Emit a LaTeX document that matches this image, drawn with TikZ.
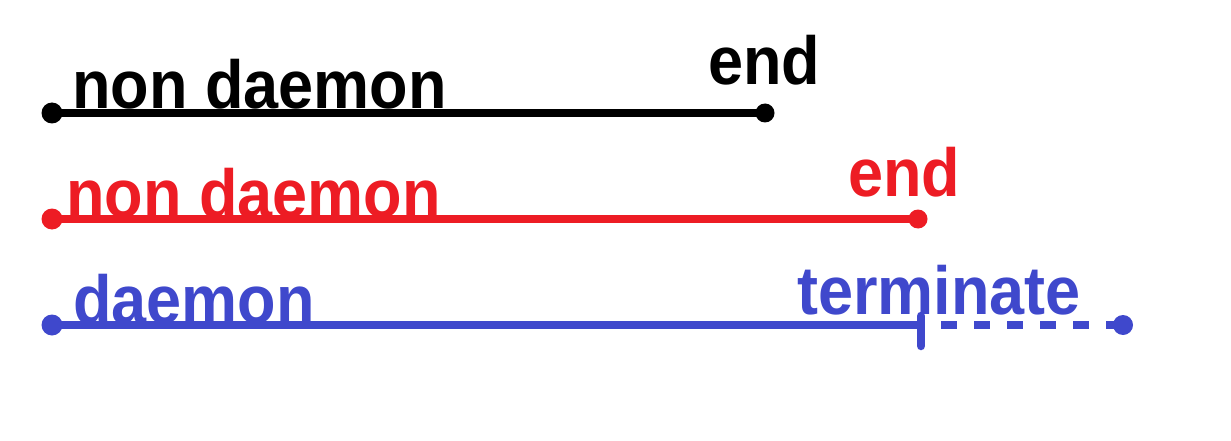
\documentclass[tikz,border=0pt]{standalone}
\usepackage{fontspec}
\usepackage{graphicx}
\setmainfont{Liberation Sans}
\definecolor{pred}{HTML}{ED1C24}
\definecolor{pblue}{HTML}{3F48CC}
\newcommand{\tallbold}[1]{\scalebox{1}[1.08]{#1}}
\begin{document}
\begin{tikzpicture}[x=1pt,y=-1pt,
  dot/.style={circle,fill=#1,inner sep=0pt,minimum size=21pt},
  lbl/.style={anchor=base west,inner sep=0pt,text=#1,font=\fontsize{63}{63}\selectfont\bfseries},
  wire/.style={line width=8pt,draw=#1}]
\useasboundingbox (0,0) rectangle (1231,441);
% black
\node[dot=black] (b0) at (52,113) {};
\node[dot=black,minimum size=19pt] (b1) at (765,113) {};
\draw[wire=black] (b0.center) -- (b1.center);
\node[lbl=black] (bt) at (72,109) {\tallbold{non daemon}};
\node[lbl=black] (be) at (708,85) {\tallbold{end}};
% red
\node[dot=pred] (r0) at (52,219) {};
\node[dot=pred,minimum size=19pt] (r1) at (918,219) {};
\draw[wire=pred] (r0.center) -- (r1.center);
\node[lbl=pred] (rt) at (66,217) {\tallbold{non daemon}};
\node[lbl=pred] (re) at (848,196) {\tallbold{end}};
% blue
\node[dot=pblue] (u0) at (52,325) {};
\coordinate (ut) at (921,325);
\coordinate (ud0) at (941,325);
\node[dot=pblue,minimum size=20pt] (u1) at (1123,325) {};
\draw[wire=pblue] (u0.center) -- (ut);
\draw[line width=8.5pt,draw=pblue,line cap=round] (921,316) -- (921,346);
\draw[wire=pblue,dash pattern=on 16pt off 17pt] (ud0) -- (u1.center);
\node[lbl=pblue] (ud) at (73,323) {\tallbold{daemon}};
\node[lbl=pblue] (ue) at (797,314) {\tallbold{terminate}};
\end{tikzpicture}
\end{document}
